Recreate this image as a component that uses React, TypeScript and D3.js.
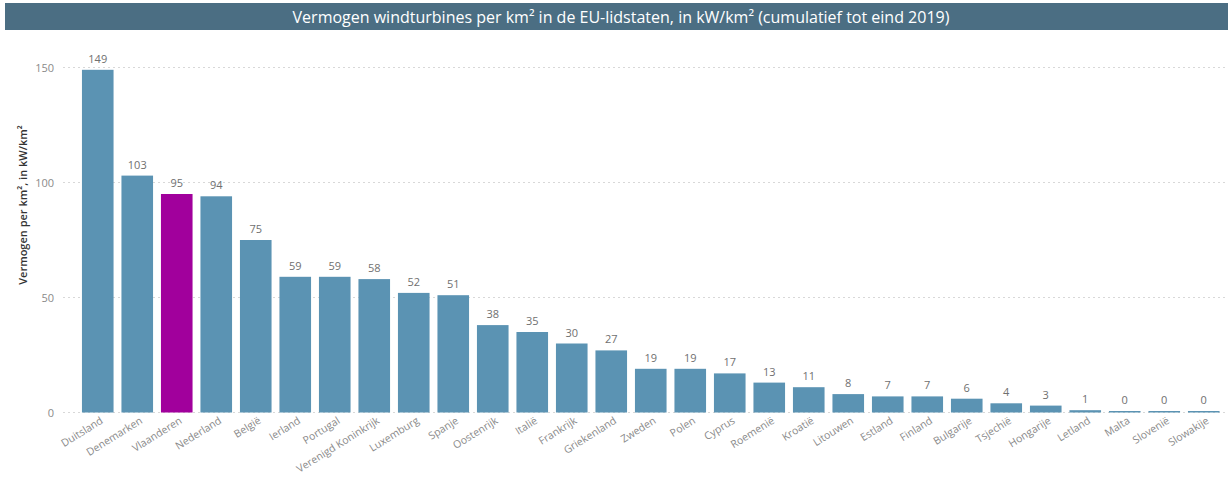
import React from "react";
import * as d3 from "d3";

const categories = ["Duitsland","Denemarken","Vlaanderen","Nederland","België","Ierland","Portugal","Verenigd Koninkrijk","Luxemburg","Spanje","Oostenrijk","Italië","Frankrijk","Griekenland","Zweden","Polen","Cyprus","Roemenië","Kroatië","Litouwen","Estland","Finland","Bulgarije","Tsjechië","Hongarije","Letland","Malta","Slovenië","Slowakije"];
const values = [149,103,95,94,75,59,59,58,52,51,38,35,30,27,19,19,17,13,11,8,7,7,6,4,3,1,0,0,0];
const yTicks = [0, 50, 100, 150];
const highlight = "Vlaanderen";
const title = "Vermogen windturbines per km² in de EU-lidstaten, in kW/km² (cumulatief tot eind 2019)";
const yTitle = "Vermogen per km², in kW/km²";

const W = 1228, H = 484;
const FONT = "'Open Sans', 'Noto Sans', sans-serif";

export default function App() {
  const x = d3.scaleBand<string>().domain(categories).range([78, 1223.5]).paddingInner(0.2).paddingOuter(0.1);
  const y = d3.scaleLinear().domain([0, 150]).range([412.5, 67.5]);
  const blue = "#5b93b3";
  const purple = "#a1009c";
  return (
    <svg width={W} height={H} style={{ position: "absolute", left: 0, top: 0, background: "#fff" }} fontFamily={FONT}>
      <rect x={5} y={3} width={W - 5} height={27} fill="#4b6e83" />
      <text x={621} y={22.5} textAnchor="middle" fill="#fff" fontSize={16} fontWeight={400}>{title}</text>
      {yTicks.map(t => (
        <g key={t}>
          <line x1={63} x2={W} y1={y(t)} y2={y(t)} stroke="#d8d8d8" strokeDasharray="2,3" strokeWidth={1} />
          <text x={54} y={y(t) + 4} textAnchor="end" fill="#8a8a8a" fontSize={11}>{t}</text>
        </g>
      ))}
      <text transform={`translate(27,205) rotate(-90)`} textAnchor="middle" fill="#333" fontSize={11} fontWeight={600}>{yTitle}</text>
      {categories.map((c, i) => {
        const v = values[i];
        const bx = x(c)!;
        const top = y(v);
        const h = Math.max(y(0) - top, 1.5);
        const cx = bx + x.bandwidth() / 2;
        return (
          <g key={c}>
            <rect x={bx} y={y(0) - h} width={x.bandwidth()} height={h} fill={c === highlight ? purple : blue} />
            <text x={cx} y={y(0) - h - 7} textAnchor="middle" fill="#707070" fontSize={11}>{v}</text>
            <text transform={`translate(${cx + 6},${y(0) + 10}) rotate(-32)`} textAnchor="end" fill="#8a8a8a" fontSize={10.5}>{c}</text>
          </g>
        );
      })}
    </svg>
  );
}
